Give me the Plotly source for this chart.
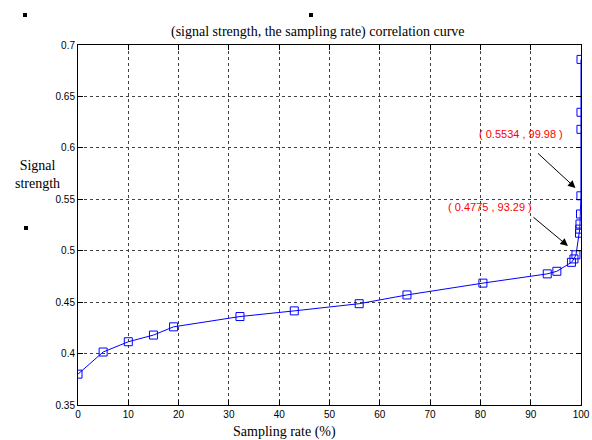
import plotly.graph_objects as go

# Data
sampling_rate = [0, 5, 10, 15, 19, 32.2, 43, 55.9, 65.4, 80.5, 93.29, 95.2,
                 98.1, 98.6, 99.0, 99.7, 99.75, 99.8, 99.9, 99.98, 99.99, 99.995, 100]
signal_strength = [0.380, 0.4015, 0.4115, 0.418, 0.426, 0.436, 0.4415, 0.4485, 0.457,
                   0.4685, 0.4775, 0.480, 0.4887, 0.492, 0.496, 0.517, 0.521, 0.526,
                   0.5357, 0.5534, 0.618, 0.6346, 0.686]

x_ticks = [0, 10, 20, 30, 40, 50, 60, 70, 80, 90, 100]
y_ticks = [0.35, 0.4, 0.45, 0.5, 0.55, 0.6, 0.65, 0.7]
y_tick_labels = ["0.35", "0.4", "0.45", "0.5", "0.55", "0.6", "0.65", "0.7"]

title_text = "(signal strength, the sampling rate) correlation curve"
x_title = "Sampling rate (%)"
y_title = "Signal<br>strength"
label_hi = "( 0.5534 , 99.98 )"
label_lo = "( 0.4775 , 93.29 )"

fig = go.Figure()
fig.add_trace(go.Scatter(
    x=sampling_rate, y=signal_strength, mode="lines+markers",
    line=dict(color="#0000ff", width=1),
    marker=dict(symbol="square-open", size=8, color="#0000ff", line=dict(width=1)),
    showlegend=False,
))

axis_common = dict(
    showline=True, linecolor="black", linewidth=1, mirror="ticks",
    ticks="inside", ticklen=5, tickcolor="black",
    showgrid=True, gridcolor="#404040", griddash="3px,3px", gridwidth=1,
    zeroline=False, automargin=False,
    tickfont=dict(family="Arial, Liberation Sans", size=10, color="black"),
)
fig.update_xaxes(range=[0, 100], tickvals=x_ticks, **axis_common)
fig.update_yaxes(range=[0.35, 0.7], tickvals=y_ticks, ticktext=y_tick_labels, **axis_common)

serif = "Liberation Serif, Times New Roman, serif"
annotations = [
    dict(text=title_text, xref="paper", yref="paper", x=0.477, y=1.0, yshift=13,
         xanchor="center", yanchor="middle", showarrow=False,
         font=dict(family=serif, size=14, color="black")),
    dict(text=x_title, xref="paper", yref="paper", x=0.41, y=0, yshift=-27,
         xanchor="center", yanchor="middle", showarrow=False,
         font=dict(family=serif, size=14, color="black")),
    dict(text=y_title, xref="paper", yref="paper", x=-0.08, y=0.64,
         xanchor="center", yanchor="middle", showarrow=False,
         font=dict(family=serif, size=14, color="black")),
    dict(text=label_hi, x=88.1, y=0.6135, showarrow=False,
         font=dict(family="Arial, Liberation Sans", size=11, color="red")),
    dict(text=label_lo, x=82.0, y=0.5425, showarrow=False,
         font=dict(family="Arial, Liberation Sans", size=11, color="red")),
    dict(text="", x=98.9, y=0.561, ax=-39, ay=-36, showarrow=True,
         arrowhead=2, arrowsize=1.5, arrowwidth=1, arrowcolor="black"),
    dict(text="", x=97.4, y=0.5046, ax=-36, ay=-30, showarrow=True,
         arrowhead=2, arrowsize=1.5, arrowwidth=1, arrowcolor="black"),
]

# small stray marks seen in the reference image
shapes = []
for sx, sy in [(-0.1054, 1.0833), (0.4632, 1.0833), (-0.1034, 0.4917)]:
    shapes.append(dict(type="rect", xref="paper", yref="paper",
                       x0=sx - 0.004, x1=sx + 0.004, y0=sy - 0.0055, y1=sy + 0.0055,
                       fillcolor="black", line=dict(width=0)))

fig.update_layout(
    width=592, height=440,
    margin=dict(l=78, r=11, t=45, b=35),
    paper_bgcolor="white", plot_bgcolor="white",
    annotations=annotations, shapes=shapes,
)

fig.write_html("out.html", config={"displayModeBar": False},
               post_script="document.body.style.margin='0px';document.body.style.overflow='hidden';")
